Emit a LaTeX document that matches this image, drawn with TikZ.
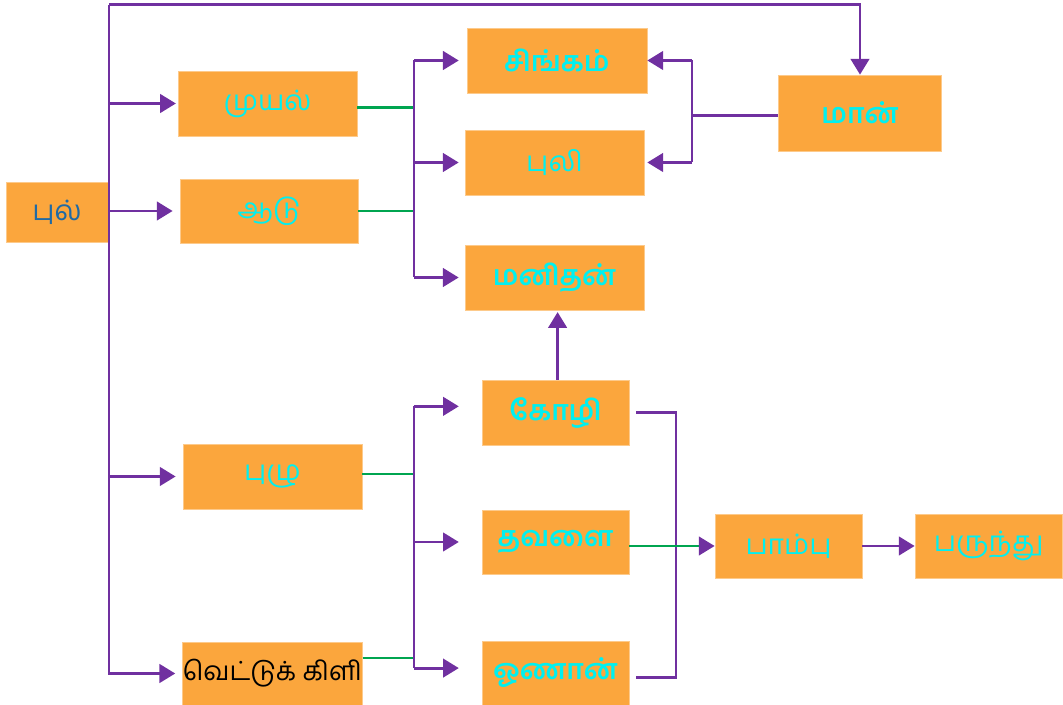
\documentclass[tikz,border=0pt]{standalone}
\usepackage{fontspec}
\newfontfamily\tamilfont[Script=Tamil]{Hind Madurai}
\usetikzlibrary{arrows.meta, positioning, calc}

\definecolor{boxorange}{HTML}{FBA63D}
\definecolor{linepurple}{HTML}{7030A0}
\definecolor{linegreen}{HTML}{00A550}
\definecolor{textcyan}{HTML}{00F0F0}
\definecolor{textblue}{HTML}{1F6AA5}

\begin{document}
\begin{tikzpicture}[
        x=0.02cm, y=-0.02cm,
        font=\tamilfont\fontsize{16}{19}\selectfont,
        animal/.style={fill=boxorange, draw=boxorange!60!white, line width=0.4pt, inner sep=0pt, text=textcyan, align=center},
        heavy/.style={font=\tamilfont\bfseries\fontsize{16}{19}\selectfont},
        line/.style={linepurple, line width=1.7pt},
        arrow/.style={line, -{Triangle[length=9pt, width=10.5pt]}},
        feed/.style={linegreen, line width=1.6pt}
    ]
    \useasboundingbox (0,0) rectangle (1063,705);

    % Left: grass
    \node[animal, text=textblue, minimum width=2.04cm, minimum height=1.2cm] (pul) at (57,212) {புல்};

    % First column: grazers
    \node[animal, minimum width=3.58cm, minimum height=1.3cm] (muyal) at (267.5,103.5) {முயல்};
    \node[animal, minimum width=3.56cm, minimum height=1.28cm] (aadu) at (269,211) {ஆடு};
    \node[animal, minimum width=3.58cm, minimum height=1.3cm] (puzhu) at (272.5,476.5) {புழு};
    \node[animal, text=black, font=\tamilfont\fontsize{15}{18}\selectfont, minimum width=3.58cm, minimum height=1.26cm] (vettu) at (272.5,673.5) {வெட்டுக் கிளி};

    % Second column
    \node[animal, heavy, minimum width=3.6cm, minimum height=1.3cm] (singam) at (557,60.5) {சிங்கம்};
    \node[animal, minimum width=3.58cm, minimum height=1.3cm] (puli) at (554.5,162.5) {புலி};
    \node[animal, heavy, minimum width=3.58cm, minimum height=1.3cm] (manithan) at (554.5,277.5) {மனிதன்};
    \node[animal, heavy, minimum width=2.94cm, minimum height=1.3cm] (kozhi) at (555.5,412.5) {கோழி};
    \node[animal, heavy, minimum width=2.94cm, minimum height=1.28cm] (thavalai) at (555.5,542) {தவளை};
    \node[animal, heavy, minimum width=2.94cm, minimum height=1.28cm] (oonaan) at (555.5,673) {ஓணான்};

    % Right: deer, snake, eagle
    \node[animal, heavy, minimum width=3.26cm, minimum height=1.52cm] (maan) at (860,113) {மான்};
    \node[animal, minimum width=2.94cm, minimum height=1.28cm] (paambu) at (788.5,546) {பாம்பு};
    \node[animal, minimum width=2.94cm, minimum height=1.28cm] (parunthu) at (988.5,546) {பருந்து};

    % Trunk from grass
    \coordinate (trunktop) at (109,5);
    \draw[line] (trunktop) -- (109,675);
    \draw[arrow] (trunktop) -| (maan.north);
    \draw[arrow, shorten >=1pt] (trunktop |- muyal.west) -- (muyal.west);
    \foreach \n in {aadu, puzhu, vettu}
        \draw[arrow, shorten >=4pt] (trunktop |- \n.west) -- (\n.west);

    % Upper fork
    \coordinate (forkup) at (414,0);
    \draw[feed] ([yshift=-2.5pt]muyal.east) -- ([yshift=-2.5pt]muyal.east -| forkup);
    \draw[feed] (aadu.east) -- (aadu.east -| forkup);
    \draw[line] (forkup |- singam.west) -- (forkup |- manithan.west);
    \draw[arrow, shorten >=4.5pt] (forkup |- singam.west) -- (singam.west);
    \foreach \n in {puli, manithan}
        \draw[arrow, shorten >=3.4pt] (forkup |- \n.west) -- (\n.west);

    % Lower fork
    \coordinate (forklow) at (414,0);
    \draw[feed] ([yshift=1.4pt]puzhu.east) -- ([yshift=1.4pt]puzhu.east -| forklow);
    \draw[feed] ([yshift=8.8pt]vettu.east) -- ([yshift=8.8pt]vettu.east -| forklow);
    \draw[line] ([yshift=3.5pt]forklow |- kozhi.west) -- ([yshift=2.8pt]forklow |- oonaan.west);
    \draw[arrow, shorten >=13pt] ([yshift=3.5pt]forklow |- kozhi.west) -- ([yshift=3.5pt]kozhi.west);
    \draw[arrow, shorten >=13pt] (forklow |- thavalai.west) -- (thavalai.west);
    \draw[arrow, shorten >=13pt] ([yshift=2.8pt]forklow |- oonaan.west) -- ([yshift=2.8pt]oonaan.west);

    % Deer to lion and tiger
    \coordinate (forkmaan) at (692,0);
    \draw[line] ([yshift=-1.7pt]maan.west) -- ([yshift=-1.7pt]maan.west -| forkmaan);
    \draw[line] (forkmaan |- singam.east) -- (forkmaan |- puli.east);
    \draw[arrow] (forkmaan |- singam.east) -- (singam.east);
    \draw[arrow, shorten >=1.7pt] (forkmaan |- puli.east) -- (puli.east);

    % Hen to man
    \draw[arrow, shorten >=1pt] ([xshift=1.2pt]kozhi.north) -- ([xshift=1.2pt]kozhi.north |- manithan.south);

    % Bracket to snake
    \coordinate (forksnake) at (676,0);
    \draw[line] ([xshift=4pt]kozhi.east) -| ([yshift=-2.8pt]forksnake |- oonaan.east) -- ([xshift=4pt, yshift=-2.8pt]oonaan.east);
    \draw[feed, -{Triangle[length=9pt, width=10.5pt, color=linepurple]}] (thavalai.east |- paambu.west) -- (paambu.west);
    \draw[arrow] (paambu.east) -- (parunthu.west);

\end{tikzpicture}
\end{document}
